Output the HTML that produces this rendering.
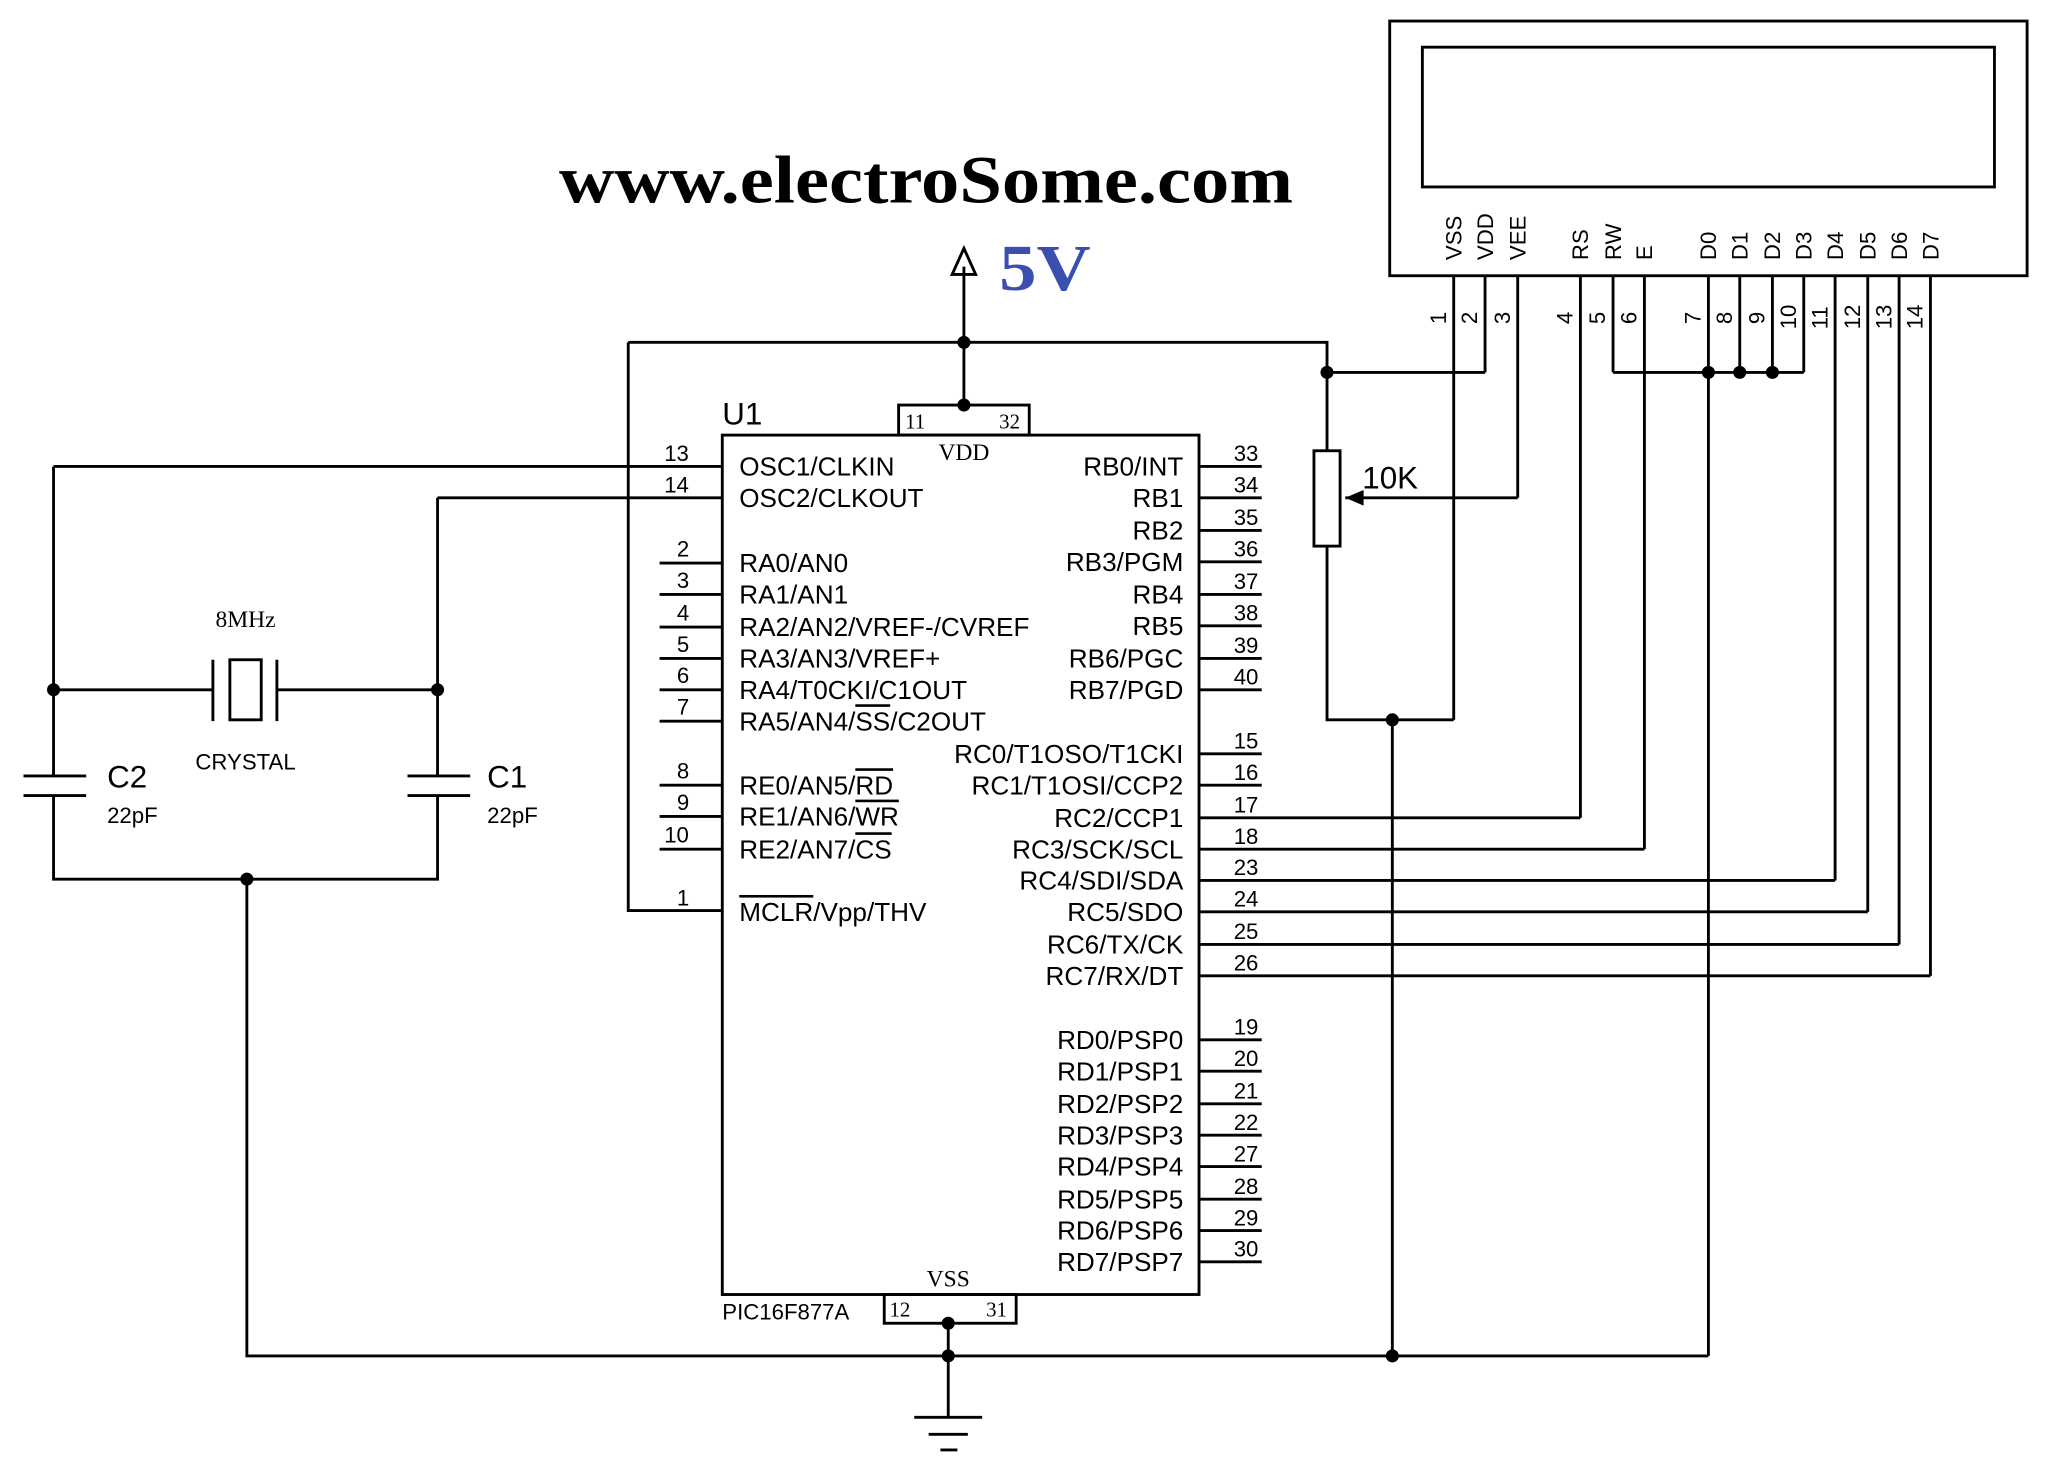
<!DOCTYPE html>
<html><head><meta charset="utf-8"><style>
html,body{margin:0;padding:0;background:#fff;}
svg{display:block;}
text{font-family:"Liberation Sans",sans-serif;fill:#000;}
.s{font-family:"Liberation Serif",serif;}
</style></head><body>
<svg width="2048" height="1471" viewBox="0 0 1568 1126" xmlns="http://www.w3.org/2000/svg">
<rect width="1568" height="1126" fill="#fff"/>
<g stroke="#000" stroke-width="2.2" fill="none">
<rect x="1064" y="16" width="488" height="195"/>
<rect x="1089" y="36" width="438" height="107"/>
<path d="M1113 211V551 M1137 211V285 M1162 211V381 M1210 211V626 M1235 211V285 M1259 211V650 M1308 211V1038 M1332 211V285 M1357 211V285 M1381 211V285 M1405 211V674 M1430 211V698 M1454 211V723 M1478 211V747"/>
<path d="M1235 285H1381"/>
<path d="M738 204V310 M481 262H1016V345 M1016 285H1137 M481 262V697H553"/>
<path d="M738 190L729 210H747Z"/>
<rect x="1006" y="345" width="20" height="73"/>
<path d="M1016 418V551H1113 M1066 551V1038"/>
<path d="M1162 381H1030"/>
<rect x="553" y="333" width="365" height="658"/>
<rect x="688" y="310" width="100" height="23"/>
<rect x="677" y="991" width="101" height="22"/>
<path d="M41 357H553 M335 381H553 M505 431H553 M505 455H553 M505 480H553 M505 504H553 M505 528H553 M505 552H553 M505 601H553 M505 625H553 M505 650H553"/>
<path d="M918 357H966 M918 381H966 M918 406H966 M918 430H966 M918 455H966 M918 479H966 M918 504H966 M918 528H966 M918 577H966 M918 601H966 M918 796H966 M918 820H966 M918 845H966 M918 869H966 M918 893H966 M918 918H966 M918 942H966 M918 966H966"/>
<path d="M918 626H1210 M918 650H1259 M918 674H1405 M918 698H1430 M918 723H1454 M918 747H1478"/>
<path d="M41 357V594 M41 609V673H335V609 M335 594V381 M41 528H163 M212 528H335 M163 505V552 M212 505V552"/>
<rect x="176" y="505" width="24" height="46"/>
<path d="M18 594H66 M18 609H66 M312 594H360 M312 609H360"/>
<path d="M189 673V1038H1308 M726 1013V1085 M700 1085H752 M711 1098H741 M720 1110H733"/>
</g>
<path d="M1030 381L1044 375V387Z" fill="#000"/>
<g fill="#000">
<circle cx="738" cy="262" r="5"/><circle cx="738" cy="310" r="5"/><circle cx="1016" cy="285" r="5"/>
<circle cx="1066" cy="551" r="5"/><circle cx="1066" cy="1038" r="5"/><circle cx="726" cy="1013" r="5"/><circle cx="726" cy="1038" r="5"/>
<circle cx="1308" cy="285" r="5"/><circle cx="1332" cy="285" r="5"/><circle cx="1357" cy="285" r="5"/>
<circle cx="41" cy="528" r="5"/><circle cx="335" cy="528" r="5"/><circle cx="189" cy="673" r="5"/>
</g>
<text x="428" y="155" class="s" font-size="52" font-weight="bold" textLength="562" lengthAdjust="spacingAndGlyphs">www.electroSome.com</text>
<text x="765" y="222" class="s" font-size="50" font-weight="bold" textLength="70" lengthAdjust="spacingAndGlyphs" style="fill:#3a4fb0">5V</text>
<text x="1043" y="374" font-size="24">10K</text>
<text x="553" y="325" font-size="24">U1</text>
<text x="553" y="1010" font-size="17">PIC16F877A</text>
<text x="738" y="352" class="s" font-size="18" text-anchor="middle">VDD</text>
<text x="726" y="985" class="s" font-size="18" text-anchor="middle">VSS</text>
<g class="s" font-size="16"><text x="693" y="328" class="s">11</text><text x="765" y="328" class="s">32</text><text x="681" y="1008" class="s">12</text><text x="755" y="1008" class="s">31</text></g>
<text x="188" y="480" class="s" font-size="18" text-anchor="middle">8MHz</text>
<text x="188" y="589" font-size="17" text-anchor="middle">CRYSTAL</text>
<text x="82" y="603" font-size="24">C2</text><text x="82" y="630" font-size="17">22pF</text>
<text x="373" y="603" font-size="24">C1</text><text x="373" y="630" font-size="17">22pF</text>
<g font-size="20">
<text x="566" y="364">OSC1/CLKIN</text><text x="566" y="388">OSC2/CLKOUT</text>
<text x="566" y="438">RA0/AN0</text><text x="566" y="462">RA1/AN1</text><text x="566" y="487">RA2/AN2/VREF-/CVREF</text>
<text x="566" y="511">RA3/AN3/VREF+</text><text x="566" y="535">RA4/T0CKI/C1OUT</text><text x="566" y="559">RA5/AN4/<tspan text-decoration="overline">SS</tspan>/C2OUT</text>
<text x="566" y="608">RE0/AN5/<tspan text-decoration="overline">RD</tspan></text><text x="566" y="632">RE1/AN6/<tspan text-decoration="overline">WR</tspan></text><text x="566" y="657">RE2/AN7/<tspan text-decoration="overline">CS</tspan></text>
<text x="566" y="705"><tspan text-decoration="overline">MCLR</tspan>/Vpp/THV</text>
</g>
<g font-size="20" text-anchor="end">
<text x="906" y="364">RB0/INT</text><text x="906" y="388">RB1</text><text x="906" y="413">RB2</text><text x="906" y="437">RB3/PGM</text>
<text x="906" y="462">RB4</text><text x="906" y="486">RB5</text><text x="906" y="511">RB6/PGC</text><text x="906" y="535">RB7/PGD</text>
<text x="906" y="584">RC0/T1OSO/T1CKI</text><text x="906" y="608">RC1/T1OSI/CCP2</text><text x="906" y="633">RC2/CCP1</text><text x="906" y="657">RC3/SCK/SCL</text>
<text x="906" y="681">RC4/SDI/SDA</text><text x="906" y="705">RC5/SDO</text><text x="906" y="730">RC6/TX/CK</text><text x="906" y="754">RC7/RX/DT</text>
<text x="906" y="803">RD0/PSP0</text><text x="906" y="827">RD1/PSP1</text><text x="906" y="852">RD2/PSP2</text><text x="906" y="876">RD3/PSP3</text>
<text x="906" y="900">RD4/PSP4</text><text x="906" y="925">RD5/PSP5</text><text x="906" y="949">RD6/PSP6</text><text x="906" y="973">RD7/PSP7</text>
</g>
<g font-size="17" text-anchor="middle">
<text x="518" y="353">13</text><text x="518" y="377">14</text><text x="523" y="426">2</text><text x="523" y="450">3</text><text x="523" y="475">4</text><text x="523" y="499">5</text><text x="523" y="523">6</text><text x="523" y="547">7</text>
<text x="523" y="596">8</text><text x="523" y="620">9</text><text x="518" y="645">10</text><text x="523" y="693">1</text>
<text x="954" y="353">33</text><text x="954" y="377">34</text><text x="954" y="402">35</text><text x="954" y="426">36</text><text x="954" y="451">37</text><text x="954" y="475">38</text><text x="954" y="500">39</text><text x="954" y="524">40</text>
<text x="954" y="573">15</text><text x="954" y="597">16</text><text x="954" y="622">17</text><text x="954" y="646">18</text><text x="954" y="670">23</text><text x="954" y="694">24</text><text x="954" y="719">25</text><text x="954" y="743">26</text>
<text x="954" y="792">19</text><text x="954" y="816">20</text><text x="954" y="841">21</text><text x="954" y="865">22</text><text x="954" y="889">27</text><text x="954" y="914">28</text><text x="954" y="938">29</text><text x="954" y="962">30</text>
</g>
<g font-size="17">
<text transform="translate(1119,199) rotate(-90)">VSS</text><text transform="translate(1143,199) rotate(-90)">VDD</text><text transform="translate(1168,199) rotate(-90)">VEE</text>
<text transform="translate(1216,199) rotate(-90)">RS</text><text transform="translate(1241,199) rotate(-90)">RW</text><text transform="translate(1265,199) rotate(-90)">E</text>
<text transform="translate(1314,199) rotate(-90)">D0</text><text transform="translate(1338,199) rotate(-90)">D1</text><text transform="translate(1363,199) rotate(-90)">D2</text><text transform="translate(1387,199) rotate(-90)">D3</text>
<text transform="translate(1411,199) rotate(-90)">D4</text><text transform="translate(1436,199) rotate(-90)">D5</text><text transform="translate(1460,199) rotate(-90)">D6</text><text transform="translate(1484,199) rotate(-90)">D7</text>
<text transform="translate(1107,248) rotate(-90)">1</text><text transform="translate(1131,248) rotate(-90)">2</text><text transform="translate(1156,248) rotate(-90)">3</text>
<text transform="translate(1204,248) rotate(-90)">4</text><text transform="translate(1229,248) rotate(-90)">5</text><text transform="translate(1253,248) rotate(-90)">6</text>
<text transform="translate(1302,248) rotate(-90)">7</text><text transform="translate(1326,248) rotate(-90)">8</text><text transform="translate(1351,248) rotate(-90)">9</text><text transform="translate(1375,252) rotate(-90)">10</text>
<text transform="translate(1399,252) rotate(-90)">11</text><text transform="translate(1424,252) rotate(-90)">12</text><text transform="translate(1448,252) rotate(-90)">13</text><text transform="translate(1472,252) rotate(-90)">14</text>
</g>
</svg>
</body></html>
